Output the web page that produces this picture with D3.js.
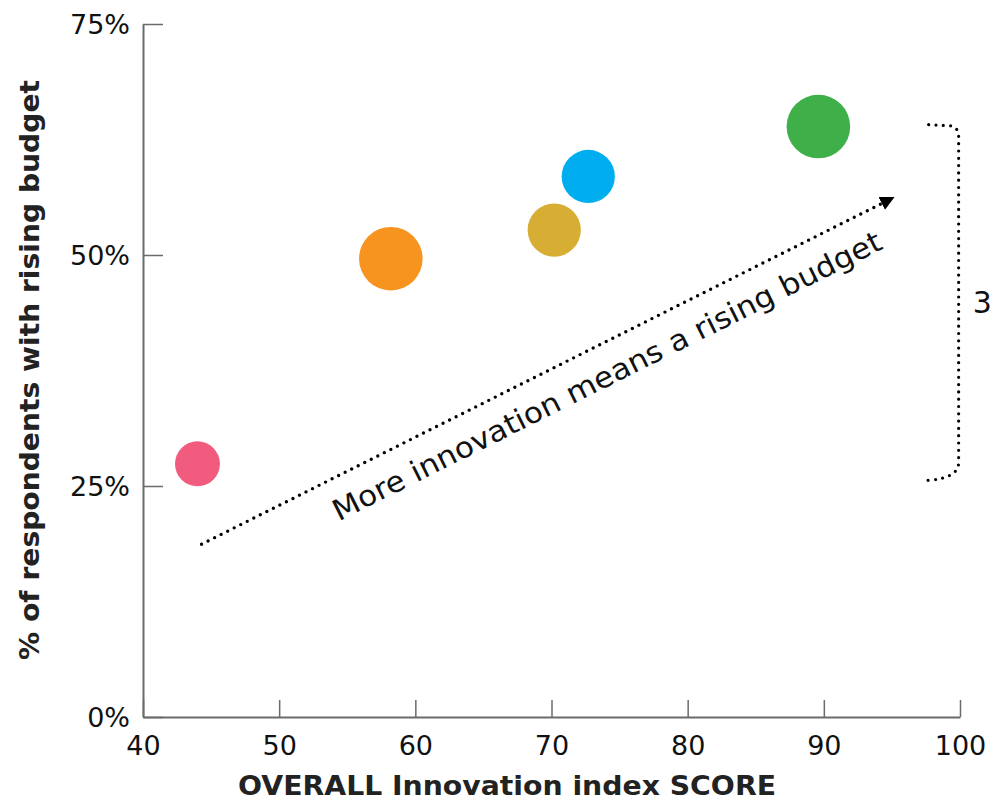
<!DOCTYPE html>
<html>
<head>
<meta charset="utf-8">
<script src="https://cdn.jsdelivr.net/npm/d3@7"></script>
<style>
  html, body { margin: 0; padding: 0; background: #fff; overflow: hidden; }
  svg { display: block; }
</style>
</head>
<body>
<svg id="chart" width="993" height="802"></svg>
<script>
// Innovation index score vs share of respondents reporting a rising budget
const groups     = ["A", "B", "C", "D", "E"];
const scores     = [44.0, 58.2, 70.2, 72.7, 89.6];
const risingPct  = [27.4, 49.6, 52.7, 58.5, 63.9];
const sizes      = [5, 10, 7, 7, 10];
const colors     = ["#F15B7E", "#F7941F", "#D8AD33", "#00AEEF", "#3FAF4A"];

const xTicks = [40, 50, 60, 70, 80, 90, 100];
const yTicks = [0, 25, 50, 75];

// Trend arrow and bracket annotations, in data units
const arrowFrom = [44.3, 18.7];
const arrowTo   = [95.1, 56.2];
const bracketTop = 64.1;
const bracketBottom = 25.6;
const bracketX = [97.7, 99.9];

const svg = d3.select("#chart");
const x = d3.scaleLinear().domain([40, 100]).range([143, 960]);
const y = d3.scaleLinear().domain([0, 75]).range([717, 24]);
const r = d3.scaleSqrt().domain([0, 10]).range([0, 31.8]);

const axisColor = "#6b6b6b";
const font = "'DejaVu Sans', sans-serif";

// Y axis
const gy = svg.append("g")
  .attr("transform", `translate(${x(40)},0)`)
  .call(d3.axisLeft(y).tickValues(yTicks).tickFormat(d => d + "%")
    .tickSize(-20).tickSizeOuter(0).tickPadding(13));

// X axis
const gx = svg.append("g")
  .attr("transform", `translate(0,${y(0)})`)
  .call(d3.axisBottom(x).tickValues(xTicks)
    .tickSize(-17).tickSizeOuter(0).tickPadding(19));

[gx, gy].forEach(g => {
  g.select(".domain").attr("stroke", axisColor).attr("stroke-width", 2);
  g.selectAll(".tick line").attr("stroke", axisColor).attr("stroke-width", 1.5);
  g.selectAll(".tick text")
    .attr("fill", "#111")
    .style("font-family", font)
    .style("font-size", "27px");
});
gy.selectAll(".tick text").attr("dy", "0.36em");

// Axis titles
svg.append("text")
  .attr("x", 507).attr("y", 795)
  .attr("text-anchor", "middle")
  .attr("textLength", 538)
  .attr("lengthAdjust", "spacingAndGlyphs")
  .style("font-family", font)
  .style("font-weight", "bold")
  .style("font-size", "26px")
  .attr("fill", "#222")
  .text("OVERALL Innovation index SCORE");

svg.append("text")
  .attr("transform", "translate(39,370) rotate(-90)")
  .attr("text-anchor", "middle")
  .attr("textLength", 580)
  .attr("lengthAdjust", "spacingAndGlyphs")
  .style("font-family", font)
  .style("font-weight", "bold")
  .style("font-size", "27px")
  .attr("fill", "#222")
  .text("% of respondents with rising budget");

// Bubbles
const data = groups.map((g, i) => ({ g, s: scores[i], p: risingPct[i], size: sizes[i], c: colors[i] }));
svg.append("g").selectAll("circle")
  .data(data)
  .join("circle")
  .attr("cx", d => x(d.s))
  .attr("cy", d => y(d.p))
  .attr("r", d => r(d.size))
  .attr("fill", d => d.c);

// Trend arrow
const defs = svg.append("defs");
defs.append("marker")
  .attr("id", "head")
  .attr("viewBox", "0 0 10 10")
  .attr("refX", 2).attr("refY", 5)
  .attr("markerWidth", 4.2).attr("markerHeight", 4.2)
  .attr("markerUnits", "strokeWidth")
  .attr("orient", "auto")
  .append("path")
  .attr("d", "M0,0 L10,5 L0,10 Z")
  .attr("fill", "#000");

const ax0 = x(arrowFrom[0]), ay0 = y(arrowFrom[1]);
const ax1 = x(arrowTo[0]), ay1 = y(arrowTo[1]);
const ang = Math.atan2(ay1 - ay0, ax1 - ax0);

svg.append("line")
  .attr("x1", ax0).attr("y1", ay0)
  .attr("x2", ax1 - 10 * Math.cos(ang)).attr("y2", ay1 - 10 * Math.sin(ang))
  .attr("stroke", "#000")
  .attr("stroke-width", 3.4)
  .attr("stroke-linecap", "round")
  .attr("stroke-dasharray", "0 7.3")
  .attr("marker-end", "url(#head)");

svg.append("text")
  .attr("transform", `translate(${(ax0 + ax1) / 2},${(ay0 + ay1) / 2}) rotate(${ang * 180 / Math.PI})`)
  .attr("x", 51).attr("y", 41)
  .attr("text-anchor", "middle")
  .attr("textLength", 610)
  .attr("lengthAdjust", "spacingAndGlyphs")
  .style("font-family", font)
  .style("font-size", "29px")
  .attr("fill", "#111")
  .text("More innovation means a rising budget");

// Bracket spanning the range of rising-budget shares
const bx0 = x(bracketX[0]), bx1 = x(bracketX[1]);
const bt = y(bracketTop), bb = y(bracketBottom);
const bracket = d3.path();
bracket.moveTo(bx0, bt);
bracket.lineTo(bx1 - 9, bt + 1);
bracket.quadraticCurveTo(bx1, bt + 2, bx1, bt + 12);
bracket.lineTo(bx1, bb - 18);
bracket.quadraticCurveTo(bx1, bb - 2, bx0 - 2, bb);
svg.append("path")
  .attr("d", bracket.toString())
  .attr("fill", "none")
  .attr("stroke", "#000")
  .attr("stroke-width", 3.2)
  .attr("stroke-linecap", "round")
  .attr("stroke-dasharray", "0 7.3");

svg.append("text")
  .attr("x", bx1 + 14).attr("y", (bt + bb) / 2 + 10)
  .style("font-family", font)
  .style("font-size", "30px")
  .attr("fill", "#111")
  .text("3");
</script>
</body>
</html>
